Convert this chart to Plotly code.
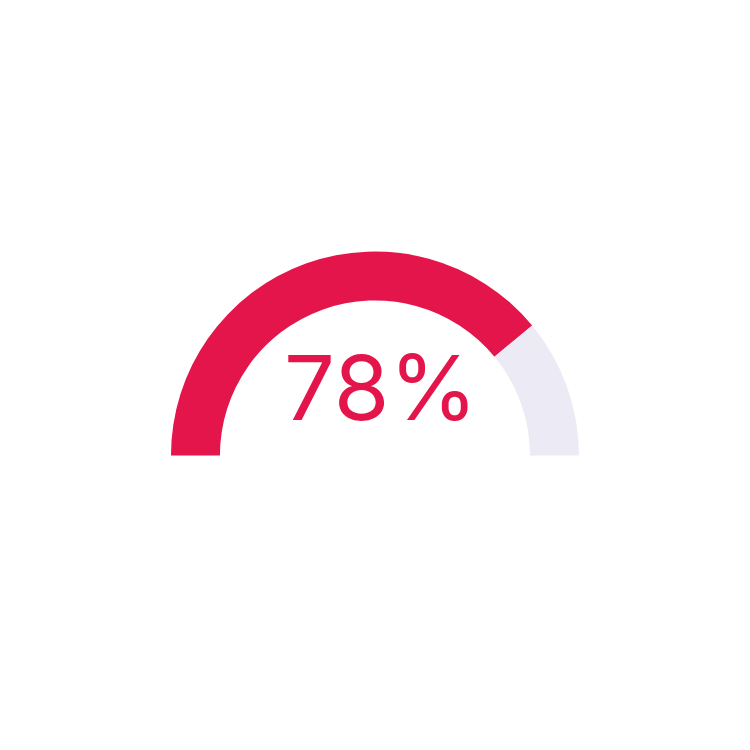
import plotly.graph_objects as go

# gauge value, in percent
value = 78
part_labels = ["filled", "rest", "hidden"]
part_values = [value, 100 - value, 100]
part_colors = ["#E3154B", "#ECEAF5", "rgba(0,0,0,0)"]

fig = go.Figure()
fig.add_trace(go.Pie(
    labels=part_labels,
    values=part_values,
    marker=dict(colors=part_colors, line=dict(width=0)),
    hole=0.76,
    rotation=270,
    direction="clockwise",
    sort=False,
    textinfo="none",
    hoverinfo="skip",
    showlegend=False,
    domain=dict(x=[0.2173, 0.7613], y=[0.1313, 0.6753]),
))

fig.add_annotation(
    text=f"{value}%",
    x=0.4973, y=0.4945, xref="paper", yref="paper",
    xanchor="center", yanchor="middle",
    showarrow=False,
    font=dict(family="Inter", size=90, color="#E3154B"),
)

fig.update_layout(
    width=750, height=750,
    margin=dict(l=0, r=0, t=0, b=0),
    paper_bgcolor="white", plot_bgcolor="white",
)
fig.write_html("out.html")
